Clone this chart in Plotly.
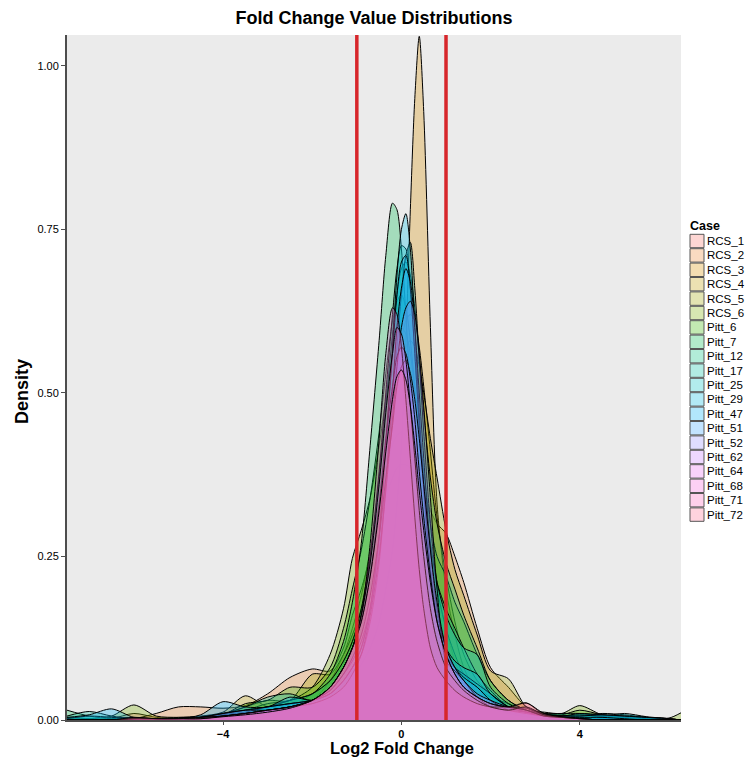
import plotly.graph_objects as go

# ---- data ----
x_grid = [-7.5, -7.0, -6.5, -6.0, -5.5, -5.0, -4.5, -4.0, -3.5, -3.0, -2.5,
          -2.0, -1.6, -1.3, -1.1, -0.9, -0.7, -0.5, -0.35, -0.2, -0.1, 0.0,
          0.1, 0.2, 0.3, 0.4, 0.5, 0.65, 0.8, 1.0, 1.2, 1.4, 1.7,
          2.0, 2.4, 2.8, 3.2, 3.6, 4.0, 4.5, 5.0, 5.5, 6.0, 6.27]

cases = ["RCS_1", "RCS_2", "RCS_3", "RCS_4", "RCS_5", "RCS_6", "Pitt_6", "Pitt_7",
         "Pitt_12", "Pitt_17", "Pitt_25", "Pitt_29", "Pitt_47", "Pitt_51", "Pitt_52",
         "Pitt_62", "Pitt_64", "Pitt_68", "Pitt_71", "Pitt_72"]

colors = ["#F8766D", "#EA8331", "#D89000", "#C09B00", "#A3A500", "#7CAE00", "#39B600",
          "#00BB4E", "#00BF7D", "#00C1A3", "#00BFC4", "#00BAE0", "#00B0F6", "#35A2FF",
          "#9590FF", "#C77CFF", "#E76BF3", "#FA62DB", "#FF62BC", "#FF6C91"]

RCS_1 = [0, 0, 0.002, 0.01, 0.004, 0.002, 0.004, 0.006, 0.01, 0.015, 0.02,
         0.03, 0.06, 0.1, 0.14, 0.19, 0.26, 0.33, 0.38, 0.42, 0.435, 0.44,
         0.435, 0.42, 0.39, 0.36, 0.32, 0.26, 0.2, 0.14, 0.09, 0.06, 0.04,
         0.03, 0.018, 0.026, 0.008, 0.004, 0.002, 0.001, 0, 0, 0, 0]
RCS_2 = [0, 0, 0, 0.002, 0.01, 0.02, 0.02, 0.018, 0.022, 0.04, 0.065,
         0.078, 0.075, 0.11, 0.16, 0.2, 0.25, 0.3, 0.34, 0.37, 0.385, 0.39,
         0.39, 0.385, 0.375, 0.36, 0.345, 0.32, 0.3, 0.285, 0.25, 0.21, 0.14,
         0.08, 0.05, 0.02, 0.01, 0.006, 0.004, 0.002, 0, 0, 0, 0]
RCS_3 = [0, 0, 0, 0, 0, 0, 0.002, 0.004, 0.006, 0.01, 0.015,
         0.025, 0.035, 0.05, 0.065, 0.085, 0.11, 0.15, 0.2, 0.26, 0.33, 0.42,
         0.58, 0.78, 0.95, 1.045, 0.93, 0.6, 0.33, 0.2, 0.13, 0.08, 0.04,
         0.02, 0.01, 0.005, 0.002, 0.001, 0, 0, 0, 0, 0, 0]
RCS_4 = [0, 0, 0, 0, 0.002, 0.004, 0.006, 0.012, 0.037, 0.02, 0.02,
         0.04, 0.06, 0.09, 0.12, 0.16, 0.22, 0.31, 0.39, 0.47, 0.53, 0.58,
         0.61, 0.62, 0.61, 0.57, 0.51, 0.41, 0.31, 0.22, 0.15, 0.1, 0.06,
         0.04, 0.02, 0.01, 0.006, 0.004, 0.003, 0.002, 0.001, 0, 0, 0]
RCS_5 = [0, 0, 0, 0, 0, 0.002, 0.004, 0.008, 0.02, 0.03, 0.03,
         0.07, 0.07, 0.1, 0.13, 0.17, 0.23, 0.31, 0.38, 0.45, 0.5, 0.54,
         0.57, 0.58, 0.57, 0.54, 0.5, 0.43, 0.37, 0.29, 0.23, 0.19, 0.13,
         0.075, 0.063, 0.02, 0.01, 0.006, 0.008, 0.004, 0.002, 0, 0, 0]
RCS_6 = [0.004, 0.002, 0.006, 0.023, 0.006, 0.004, 0.004, 0.008, 0.015, 0.025, 0.03,
         0.05, 0.1, 0.17, 0.247, 0.29, 0.34, 0.42, 0.49, 0.56, 0.59, 0.6,
         0.59, 0.56, 0.5, 0.43, 0.36, 0.27, 0.2, 0.14, 0.1, 0.07, 0.05,
         0.035, 0.025, 0.015, 0.012, 0.01, 0.022, 0.008, 0.006, 0.004, 0.003, 0.011]
Pitt_6 = [0.004, 0.002, 0, 0, 0, 0.002, 0.004, 0.008, 0.025, 0.03, 0.05,
          0.05, 0.08, 0.14, 0.2, 0.26, 0.34, 0.44, 0.53, 0.61, 0.64, 0.65,
          0.63, 0.58, 0.51, 0.44, 0.38, 0.3, 0.25, 0.22, 0.18, 0.15, 0.1,
          0.06, 0.03, 0.015, 0.01, 0.008, 0.015, 0.008, 0.004, 0.002, 0, 0]
Pitt_7 = [0.015, 0.006, 0.002, 0.004, 0.002, 0.002, 0.004, 0.008, 0.012, 0.02, 0.03,
          0.04, 0.07, 0.12, 0.18, 0.27, 0.42, 0.58, 0.71, 0.79, 0.78, 0.72,
          0.62, 0.5, 0.39, 0.3, 0.23, 0.16, 0.12, 0.09, 0.07, 0.05, 0.03,
          0.02, 0.012, 0.008, 0.006, 0.004, 0.004, 0.003, 0.002, 0, 0, 0]
Pitt_12 = [0, 0, 0, 0, 0, 0.002, 0.004, 0.008, 0.015, 0.02, 0.03,
           0.04, 0.06, 0.09, 0.12, 0.17, 0.25, 0.37, 0.48, 0.59, 0.65, 0.69,
           0.7, 0.68, 0.63, 0.55, 0.47, 0.37, 0.3, 0.24, 0.2, 0.16, 0.11,
           0.06, 0.03, 0.015, 0.01, 0.01, 0.01, 0.006, 0.004, 0.002, 0, 0]
Pitt_17 = [0.006, 0.013, 0.006, 0.002, 0.002, 0.002, 0.004, 0.01, 0.02, 0.035, 0.04,
           0.03, 0.05, 0.08, 0.11, 0.16, 0.25, 0.38, 0.5, 0.62, 0.69, 0.725,
           0.72, 0.66, 0.56, 0.45, 0.36, 0.27, 0.21, 0.17, 0.14, 0.11, 0.07,
           0.045, 0.02, 0.012, 0.008, 0.006, 0.006, 0.01, 0.008, 0.004, 0.002, 0]
Pitt_25 = [0.002, 0.006, 0.004, 0.002, 0, 0.002, 0.004, 0.01, 0.015, 0.02, 0.025,
           0.03, 0.045, 0.07, 0.09, 0.12, 0.17, 0.26, 0.36, 0.48, 0.57, 0.65,
           0.71, 0.73, 0.66, 0.55, 0.44, 0.3, 0.21, 0.16, 0.13, 0.11, 0.1,
           0.05, 0.025, 0.012, 0.008, 0.006, 0.008, 0.006, 0.01, 0.005, 0.002, 0]
Pitt_29 = [0, 0, 0, 0, 0, 0.002, 0.004, 0.008, 0.012, 0.02, 0.025,
           0.03, 0.04, 0.06, 0.08, 0.11, 0.17, 0.28, 0.42, 0.57, 0.68, 0.75,
           0.774, 0.72, 0.6, 0.47, 0.36, 0.23, 0.15, 0.1, 0.08, 0.07, 0.055,
           0.04, 0.02, 0.012, 0.008, 0.006, 0.01, 0.008, 0.006, 0.004, 0.002, 0]
Pitt_47 = [0.004, 0.008, 0.017, 0.004, 0.002, 0.002, 0.008, 0.028, 0.02, 0.02, 0.035,
           0.03, 0.04, 0.06, 0.08, 0.11, 0.17, 0.28, 0.42, 0.56, 0.65, 0.7,
           0.71, 0.66, 0.56, 0.45, 0.35, 0.23, 0.16, 0.11, 0.09, 0.08, 0.07,
           0.04, 0.02, 0.012, 0.008, 0.006, 0.006, 0.008, 0.006, 0.004, 0.002, 0]
Pitt_51 = [0, 0, 0, 0, 0, 0.002, 0.004, 0.01, 0.015, 0.02, 0.025,
           0.03, 0.04, 0.06, 0.08, 0.1, 0.15, 0.24, 0.36, 0.5, 0.6, 0.66,
           0.69, 0.67, 0.6, 0.5, 0.4, 0.26, 0.17, 0.11, 0.08, 0.065, 0.05,
           0.03, 0.015, 0.01, 0.006, 0.004, 0.004, 0.004, 0.002, 0, 0, 0]
Pitt_52 = [0, 0, 0, 0, 0, 0.002, 0.004, 0.01, 0.015, 0.015, 0.02,
           0.025, 0.035, 0.05, 0.07, 0.1, 0.16, 0.25, 0.35, 0.46, 0.54, 0.6,
           0.63, 0.64, 0.62, 0.56, 0.48, 0.34, 0.2, 0.09, 0.075, 0.06, 0.035,
           0.02, 0.015, 0.012, 0.006, 0.004, 0.002, 0, 0, 0, 0, 0]
Pitt_62 = [0, 0, 0, 0, 0.002, 0.002, 0.004, 0.006, 0.01, 0.015, 0.02,
           0.03, 0.045, 0.07, 0.095, 0.13, 0.19, 0.28, 0.37, 0.45, 0.51, 0.54,
           0.55, 0.53, 0.49, 0.43, 0.36, 0.26, 0.18, 0.11, 0.08, 0.06, 0.04,
           0.03, 0.02, 0.015, 0.006, 0.004, 0.002, 0, 0, 0, 0, 0]
Pitt_64 = [0, 0, 0, 0.002, 0.002, 0.002, 0.002, 0.006, 0.01, 0.015, 0.02,
           0.03, 0.05, 0.08, 0.11, 0.15, 0.22, 0.33, 0.43, 0.51, 0.555, 0.57,
           0.56, 0.52, 0.46, 0.38, 0.31, 0.22, 0.15, 0.1, 0.07, 0.05, 0.035,
           0.025, 0.02, 0.018, 0.008, 0.004, 0.002, 0, 0, 0, 0, 0]
Pitt_68 = [0, 0, 0, 0.002, 0.002, 0.002, 0.002, 0.006, 0.01, 0.015, 0.02,
           0.03, 0.05, 0.08, 0.11, 0.16, 0.27, 0.43, 0.56, 0.63, 0.62, 0.57,
           0.49, 0.4, 0.31, 0.23, 0.17, 0.11, 0.08, 0.06, 0.045, 0.035, 0.025,
           0.02, 0.02, 0.015, 0.006, 0.004, 0.002, 0, 0, 0, 0, 0]
Pitt_71 = [0, 0, 0, 0.002, 0.002, 0.002, 0.004, 0.006, 0.01, 0.015, 0.02,
           0.03, 0.05, 0.08, 0.11, 0.16, 0.24, 0.36, 0.47, 0.56, 0.6, 0.59,
           0.55, 0.48, 0.4, 0.32, 0.25, 0.17, 0.12, 0.08, 0.06, 0.045, 0.03,
           0.02, 0.015, 0.02, 0.008, 0.004, 0.002, 0, 0, 0, 0, 0]
Pitt_72 = [0, 0, 0, 0.004, 0.002, 0.002, 0.002, 0.005, 0.008, 0.012, 0.018,
           0.03, 0.05, 0.08, 0.11, 0.15, 0.22, 0.32, 0.41, 0.49, 0.525, 0.535,
           0.52, 0.48, 0.42, 0.35, 0.29, 0.21, 0.15, 0.1, 0.07, 0.05, 0.035,
           0.025, 0.02, 0.026, 0.01, 0.005, 0.002, 0, 0, 0, 0, 0]

densities = [RCS_1, RCS_2, RCS_3, RCS_4, RCS_5, RCS_6, Pitt_6, Pitt_7, Pitt_12, Pitt_17,
             Pitt_25, Pitt_29, Pitt_47, Pitt_51, Pitt_52, Pitt_62, Pitt_64, Pitt_68,
             Pitt_71, Pitt_72]

thresholds = [-1, 1]
x_ticks = [-4, 0, 4]
y_ticks = [0, 0.25, 0.5, 0.75, 1.0]

ALPHA = 0.3


def rgba(hexc, a):
    h = hexc.lstrip("#")
    r, g, b = int(h[0:2], 16), int(h[2:4], 16), int(h[4:6], 16)
    return f"rgba({r},{g},{b},{a})"


fig = go.Figure()
for name, col, ys in zip(cases, colors, densities):
    fig.add_trace(go.Scatter(
        x=x_grid, y=ys, name=name, mode="lines",
        line=dict(color="black", width=1, shape="spline", smoothing=0.8),
        fill="tozeroy", fillcolor=rgba(col, ALPHA),
        hoverinfo="skip", showlegend=False,
    ))

for t in thresholds:
    fig.add_shape(type="line", xref="x", yref="paper", x0=t, x1=t, y0=0, y1=1,
                  line=dict(color="#D7262B", width=3.5), layer="above")

# manual legend (ggplot-style compact keys)
L, R, T, B = 67, 681, 35, 720
W, H = R - L, B - T


def px2x(px):
    return (px - L) / W


def py2y(py):
    return (B - py) / H


key_x0, key_x1 = 690, 704
first_c, step = 241, 14.4
fig.add_annotation(xref="paper", yref="paper", x=px2x(688), y=py2y(226),
                   text="<b>Case</b>", showarrow=False, xanchor="left", yanchor="middle",
                   font=dict(family="Liberation Sans, Arial", size=12.5, color="black"))
for i, (name, col) in enumerate(zip(cases, colors)):
    cy = first_c + i * step
    fig.add_shape(type="rect", xref="paper", yref="paper",
                  x0=px2x(key_x0), x1=px2x(key_x1),
                  y0=py2y(cy - step / 2 + 0.5), y1=py2y(cy + step / 2 - 0.5),
                  fillcolor=rgba(col, ALPHA), line=dict(color="#555555", width=1))
    fig.add_annotation(xref="paper", yref="paper", x=px2x(705), y=py2y(cy),
                       text=name, showarrow=False, xanchor="left", yanchor="middle",
                       font=dict(family="Liberation Sans, Arial", size=11.5, color="black"))

# axis titles as annotations for exact placement
fig.add_annotation(xref="paper", yref="paper", x=px2x(402), y=py2y(748),
                   text="<b>Log2 Fold Change</b>", showarrow=False,
                   xanchor="center", yanchor="middle",
                   font=dict(family="Liberation Sans, Arial", size=16.5, color="black"))
fig.add_annotation(xref="paper", yref="paper", x=px2x(22), y=py2y(392),
                   text="<b>Density</b>", showarrow=False, textangle=-90,
                   xanchor="center", yanchor="middle",
                   font=dict(family="Liberation Sans, Arial", size=18, color="black"))

fig.update_layout(
    width=747, height=759,
    margin=dict(l=L, r=747 - R, t=T, b=759 - B, autoexpand=False),
    paper_bgcolor="white", plot_bgcolor="#EBEBEB",
    showlegend=False,
    font=dict(family="Liberation Sans, Arial", color="black"),
    title=dict(text="<b>Fold Change Value Distributions</b>", x=(L + R) / 2 / 747,
               xanchor="center", y=1 - 18 / 759, yanchor="middle", yref="container",
               font=dict(size=18, color="black")),
)
fig.update_xaxes(range=[-7.5, 6.27], tickvals=x_ticks,
                 ticktext=[f"<b>{v}</b>".replace("-", "\u2212") for v in x_ticks],
                 automargin=False,
                 showgrid=False, zeroline=False, showline=True, linecolor="#4D4D4D", linewidth=2,
                 ticks="outside", ticklen=3, tickcolor="#4D4D4D", tickwidth=1,
                 tickfont=dict(size=11, color="black"))
fig.update_yaxes(range=[0, 1.047], tickvals=y_ticks, ticktext=[f"{v:.2f}" for v in y_ticks],
                 automargin=False,
                 showgrid=False, zeroline=False, showline=True, linecolor="#4D4D4D", linewidth=2,
                 ticks="outside", ticklen=4, tickcolor="#4D4D4D", tickwidth=1,
                 tickfont=dict(size=11, color="black"))

fig.write_html("out.html")
